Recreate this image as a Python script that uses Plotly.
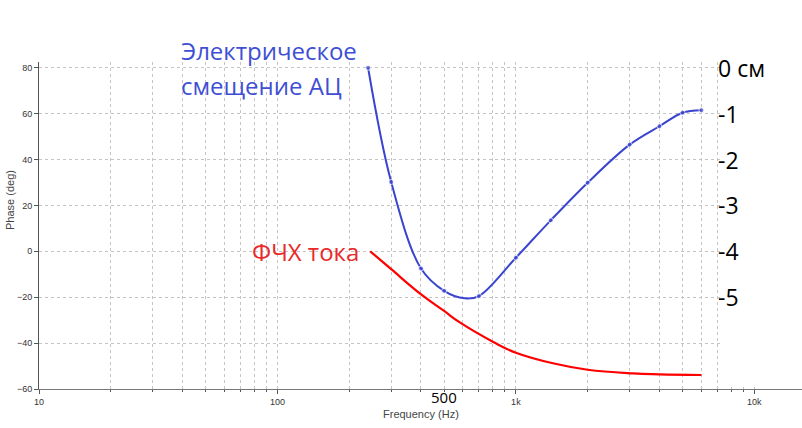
import math
import plotly.graph_objects as go

# Blue curve: electrical displacement (phase, deg)
blue_freq = [240, 300, 400, 500, 610, 700, 1000, 1400, 2000, 3000, 4000, 5000, 6000]
blue_phase = [80, 30.2, -7.5, -17.2, -20.5, -19.5, -2.8, 13.5, 29.9, 46.5, 54.5, 60.4, 61.5]
blue_marked = [1, 1, 1, 1, 0, 1, 1, 1, 1, 1, 1, 1, 1]

# Red curve: current phase response
red_freq = [245, 300, 403, 500, 582, 804, 1000, 1430, 2000, 3100, 4000, 6000]
red_phase = [0, -7.8, -19, -26, -31, -39.5, -44.2, -48.8, -51.6, -53.2, -53.6, -53.9]

x_tickvals = [10, 100, 1000, 10000]
x_ticktext = ["10", "100", "1k", "10k"]
y_tickvals = [-60, -40, -20, 0, 20, 40, 60, 80]

right_vals = [80, 60, 40, 20, 0, -20]
right_text = ["0 см", "-1", "-2", "-3", "-4", "-5"]

BLUE = "#3a45cf"
RED = "#ff0000"
GRID = "#c4c4c4"

fig = go.Figure()
fig.add_trace(go.Scatter(
    x=red_freq, y=red_phase, mode="lines",
    line=dict(color=RED, width=2.2, shape="spline", smoothing=1.2),
    hoverinfo="skip", showlegend=False))
fig.add_trace(go.Scatter(
    x=blue_freq, y=blue_phase, mode="lines+markers",
    line=dict(color=BLUE, width=2, shape="spline", smoothing=1.0),
    marker=dict(color=BLUE, size=[5 if m else 0 for m in blue_marked]),
    hoverinfo="skip", showlegend=False))

fig.update_xaxes(
    type="log", range=[1, 4.2],
    tickvals=x_tickvals, ticktext=x_ticktext,
    ticks="outside", ticklen=4, tickcolor="#555",
    tickfont=dict(family="Liberation Sans", size=9, color="#333"),
    showline=True, linecolor="#777", linewidth=1,
    showgrid=True, gridcolor=GRID, griddash="dot", gridwidth=1,
    minor=dict(dtick="D1", showgrid=True, gridcolor=GRID, griddash="dot",
               ticks="outside", ticklen=2, tickcolor="#555"),
    zeroline=False,
)
fig.update_yaxes(
    range=[-60, 82.5],
    tickvals=y_tickvals,
    ticks="outside", ticklen=4, tickcolor="#555",
    tickfont=dict(family="Liberation Sans", size=9, color="#333"),
    showline=True, linecolor="#555", linewidth=1,
    showgrid=True, gridcolor=GRID, griddash="dot", gridwidth=1,
    zeroline=False,
)

shapes = [dict(type="rect", xref="paper", yref="paper", x0=0.893, x1=1.0,
               y0=0.006, y1=1.02, fillcolor="white", line=dict(width=0),
               layer="above")]

ann = []
for v, t in zip(right_vals, right_text):
    ann.append(dict(x=0.887, xref="paper", y=v, yref="y", text=t, showarrow=False,
                    xanchor="left", yanchor="middle",
                    font=dict(family="Open Sans", size=23, color="black")))
ann += [
    dict(x=(179 - 39) / 763, xref="paper", y=(389 - 50) / 327, yref="paper",
         text="Электрическое", showarrow=False, xanchor="left", yanchor="middle",
         font=dict(family="Open Sans", size=24, color="#3f4fd4")),
    dict(x=(179 - 39) / 763, xref="paper", y=(389 - 85) / 327, yref="paper",
         text="смещение АЦ", showarrow=False, xanchor="left", yanchor="middle",
         font=dict(family="Open Sans", size=24, color="#3f4fd4")),
    dict(x=(250 - 39) / 763, xref="paper", y=(389 - 251) / 327, yref="paper",
         text="ФЧХ тока", showarrow=False, xanchor="left", yanchor="middle",
         font=dict(family="Open Sans", size=24, color="#e82a2a")),
    dict(x=math.log10(500), xref="x", y=-(397 - 389) / 327, yref="paper",
         text="500", showarrow=False, xanchor="center", yanchor="middle",
         font=dict(family="Open Sans", size=15, color="black")),
    dict(x=0.5, xref="paper", y=-(414 - 389) / 327, yref="paper",
         text="Frequency (Hz)", showarrow=False, xanchor="center", yanchor="middle",
         font=dict(family="Liberation Sans", size=11, color="#444")),
    dict(x=-(39 - 10) / 763, xref="paper", y=(389 - 200) / 327, yref="paper",
         text="Phase (deg)", showarrow=False, xanchor="center", yanchor="middle",
         textangle=-90,
         font=dict(family="Liberation Sans", size=11, color="#444")),
]

fig.update_layout(
    width=802, height=428,
    margin=dict(l=39, r=0, t=62, b=39),
    paper_bgcolor="white", plot_bgcolor="white",
    shapes=shapes, annotations=ann,
)

fig.write_html("out.html")
